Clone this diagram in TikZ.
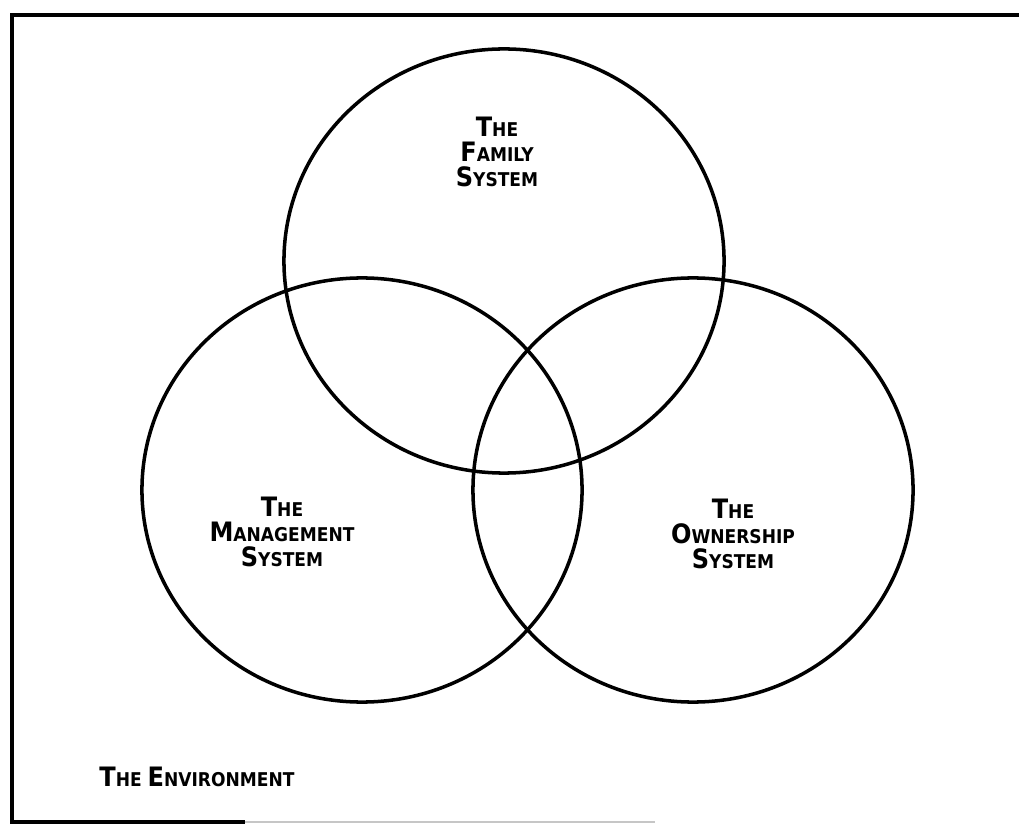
\documentclass[tikz,border=0pt]{standalone}
\usepackage{fontspec}
\setmainfont{DejaVu Sans Condensed}
\usetikzlibrary{positioning,shapes.geometric}
\newcommand{\capw}[2]{{\fontsize{19}{18}\selectfont #1}#2}

\begin{document}
\begin{tikzpicture}[x=0.025cm,y=-0.025cm]
\tikzstyle {sys}=[ellipse, draw=black, line width=2.5pt, minimum width=11cm, minimum height=10.6cm, inner sep=0pt]
\tikzstyle {txt}=[align=center, inner sep=0pt, font=\bfseries\fontsize{13.5}{17.7}\selectfont]
\tikzstyle {frame}=[line width=3pt, line cap=butt]
\useasboundingbox (0,0) rectangle (1019,826);
\draw[frame] (1019,15) -- (12,15) -- (12,822) -- (245,822);
\draw[gray!45, line width=0.8pt] (245,822) -- (655,822);
\node (fam) [sys] at (504,261) {};
\node (mgt) [sys] at (362,490) {};
\node (own) [sys] at (693,490) {};
\node (famtxt) [txt] at (497,152) {\capw{T}{HE}\\\capw{F}{AMILY}\\\capw{S}{YSTEM}};
\node (mgttxt) [txt] at (282,532) {\capw{T}{HE}\\\capw{M}{ANAGEMENT}\\\capw{S}{YSTEM}};
\node (owntxt) [txt] at (733,534) {\capw{T}{HE}\\\capw{O}{WNERSHIP}\\\capw{S}{YSTEM}};
\node (env) [txt] at (197,777) {\capw{T}{HE} \capw{E}{NVIRONMENT}};
\end{tikzpicture}
\end{document}
